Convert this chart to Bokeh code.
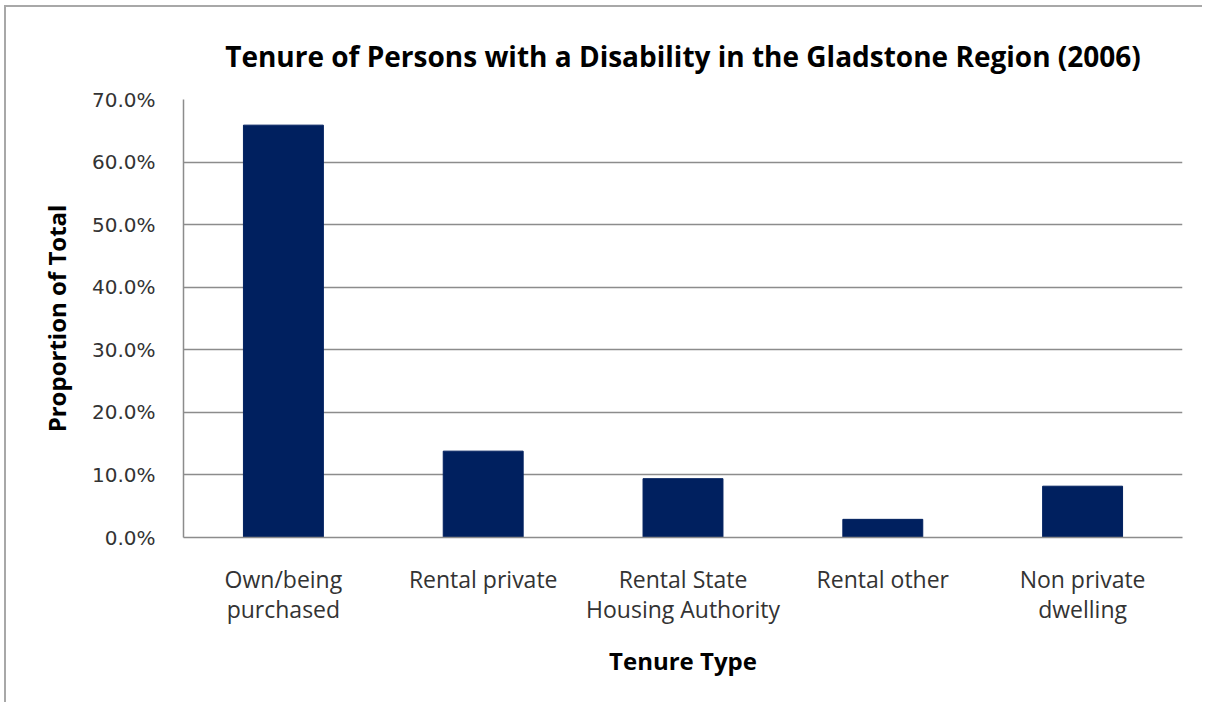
from bokeh.plotting import figure
from bokeh.models import Range1d, NumeralTickFormatter, FixedTicker
from bokeh.embed import file_html
from bokeh.resources import INLINE

categories = ["Own/being purchased", "Rental private", "Rental State Housing Authority",
              "Rental other", "Non private dwelling"]
label_lines = [["Own/being", "purchased"], ["Rental private"], ["Rental State", "Housing Authority"],
               ["Rental other"], ["Non private", "dwelling"]]
values = [0.659, 0.138, 0.094, 0.029, 0.082]
y_ticks = [0.0, 0.1, 0.2, 0.3, 0.4, 0.5, 0.6, 0.7]

factors = ["\n".join(lines) for lines in label_lines]

p = figure(x_range=factors, y_range=Range1d(0, 0.7), width=1198, height=697,
           output_backend="svg", toolbar_location=None,
           title="Tenure of Persons with a Disability in the Gladstone Region (2006)",
           min_border_left=177, min_border_right=22, min_border_top=92, min_border_bottom=167)
p.styles = {"border-top": "2px solid #a8a8a8", "border-left": "2px solid #a8a8a8",
            "margin-top": "5px", "margin-left": "4px"}

p.vbar(x=factors, top=values, width=0.4, fill_color="#00205f", line_color="#00205f")

p.title.text_font = "Open Sans"
p.title.text_font_size = "28px"
p.title.text_font_style = "bold"
p.title.text_color = "black"
p.title.align = "center"
p.title.offset = 0
p.title.standoff = 50

p.outline_line_color = None
p.xgrid.grid_line_color = None
p.ygrid.grid_line_color = "#8c8c8c"
p.ygrid.grid_line_width = 1.5

p.yaxis.ticker = FixedTicker(ticks=y_ticks)
p.yaxis.formatter = NumeralTickFormatter(format="0.0%")
p.yaxis.major_label_text_font = "DejaVu Sans"
p.yaxis.major_label_text_font_size = "20px"
p.yaxis.major_label_text_color = "#333333"
p.yaxis.major_tick_line_color = None
p.yaxis.minor_tick_line_color = None
p.yaxis.axis_line_color = "#8c8c8c"
p.yaxis.axis_line_width = 1.5
p.yaxis.major_label_standoff = 22
p.yaxis.axis_label = "Proportion of Total"
p.yaxis.axis_label_text_font = "Open Sans"
p.yaxis.axis_label_text_font_size = "24px"
p.yaxis.axis_label_text_font_style = "bold"
p.yaxis.axis_label_text_color = "black"
p.yaxis.axis_label_standoff = 16

p.xaxis.major_label_text_font = "Open Sans"
p.xaxis.major_label_text_font_size = "23px"
p.xaxis.major_label_text_color = "#333333"
p.xaxis.major_label_text_line_height = 0.94
p.xaxis.major_label_standoff = 19
p.xaxis.major_tick_line_color = None
p.xaxis.minor_tick_line_color = None
p.xaxis.axis_line_color = "#8c8c8c"
p.xaxis.axis_line_width = 1.5
p.xaxis.axis_label = "Tenure Type"
p.xaxis.axis_label_text_font = "Open Sans"
p.xaxis.axis_label_text_font_size = "24px"
p.xaxis.axis_label_text_font_style = "bold"
p.xaxis.axis_label_text_color = "black"
p.xaxis.axis_label_standoff = 16

open("out.html", "w").write(file_html(p, INLINE))
